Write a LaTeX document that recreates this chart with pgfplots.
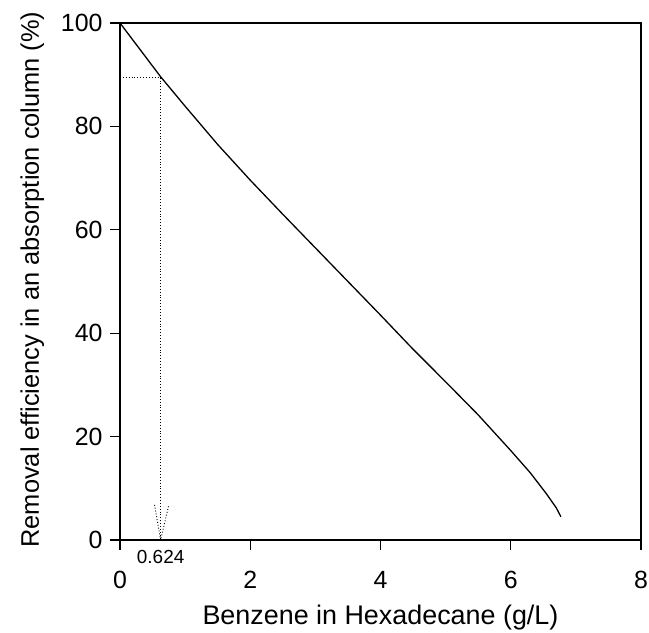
\documentclass[border=0pt]{standalone}
\usepackage{fontspec}
\setmainfont{Liberation Sans}
\usepackage{pgfplots}
\pgfplotsset{compat=1.18}
\begin{document}
\begin{tikzpicture}
\begin{axis}[
  scale only axis,
  width=521bp, height=517bp,
  xmin=0, xmax=8, ymin=0, ymax=100,
  xtick={0,2,4,6,8}, ytick={0,20,40,60,80,100},
  tick align=outside, tick pos=left,
  major tick length=10bp,
  axis line style={line width=1.2bp},
  every tick/.style={black, line width=1.2bp},
  /pgf/number format/assume math mode=true,
  tick label style={font=\fontsize{25}{29}\selectfont},
  xticklabel style={yshift=-18bp},
  yticklabel style={xshift=-4bp},
  extra x ticks={0.624},
  extra x tick labels={0.624},
  extra x tick style={major tick length=0bp, xticklabel style={font=\fontsize{19}{22}\selectfont, yshift=11bp}},
  xlabel={Benzene in Hexadecane (g/L)},
  ylabel={Removal efficiency in an absorption column (\%)},
  xlabel style={font=\fontsize{27}{31}\selectfont, yshift=1bp},
  ylabel style={font=\fontsize{25.5}{29}\selectfont, yshift=10bp, xshift=2bp},
  clip=false,
]
\addplot[black, line width=1.3bp] coordinates {
 (0,100) (0.624,89.6) (1,83.9) (1.5,76.5) (2,69.6) (2.5,63.0) (3,56.5)
 (3.5,50.0) (4,43.5) (4.5,36.9) (5,30.6) (5.5,24.2) (6,17.3) (6.3,13.0)
 (6.55,8.9) (6.7,6.2) (6.77,4.5)
};
\addplot[black, line width=0.9bp, dotted] coordinates {(0,89.4) (0.624,89.4) (0.624,0)};
\addplot[black, line width=0.9bp, dotted] coordinates {(0.53,6.8) (0.624,0) (0.75,6.8)};
\end{axis}
\pgfresetboundingbox
\path (current axis.south west) +(-120bp,-93bp);
\path (current axis.north east) +(8bp,23bp);
\end{tikzpicture}
\end{document}
